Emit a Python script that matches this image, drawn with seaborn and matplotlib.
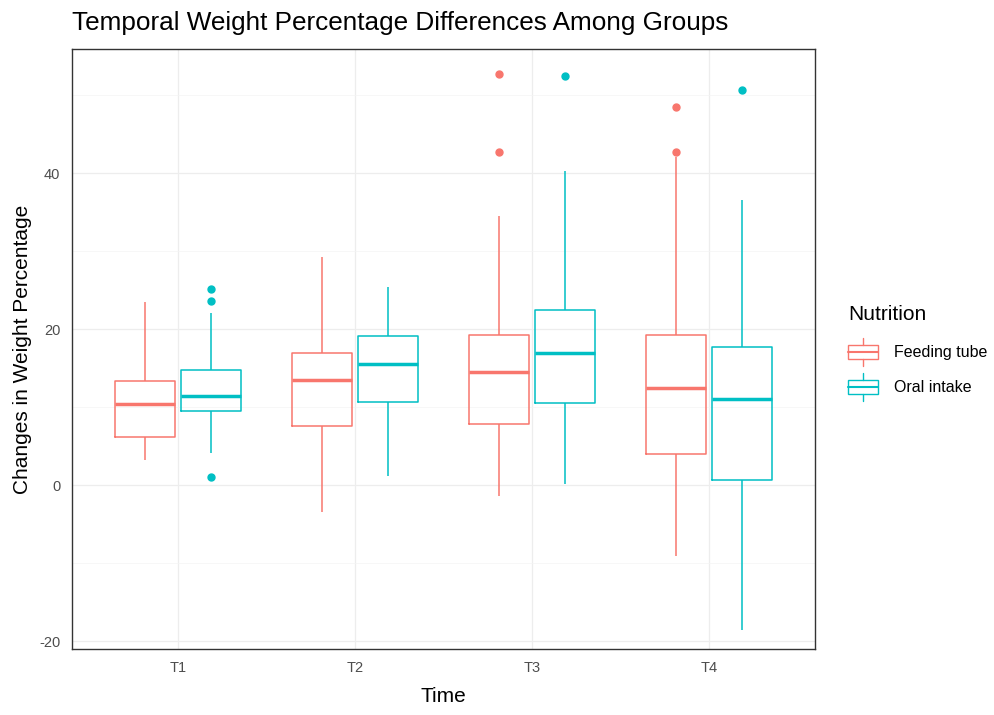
import matplotlib.pyplot as plt
import seaborn as sns
import pandas as pd
from matplotlib.legend_handler import HandlerBase
from matplotlib.lines import Line2D
from matplotlib.patches import Rectangle, Patch

# categories
times = ['T1', 'T2', 'T3', 'T4']
groups = ['Feeding tube', 'Oral intake']
colors = ['#F8766D', '#00BFC4']

t1_feeding = [3.2, 4.5, 5.6, 6.2, 7.8, 9.1, 10.4, 11.5, 12.6, 13.3, 15.8, 19.2, 23.5]
t1_oral = [1.1, 4.1, 8.2, 9.5, 10.3, 10.9, 11.45, 12.4, 13.6, 14.7, 22.0, 23.6, 25.1]
t2_feeding = [-3.5, 2.4, 5.9, 7.6, 9.8, 12.1, 13.5, 14.6, 15.8, 16.9, 21.4, 25.6, 29.3]
t2_oral = [1.2, 6.3, 9.1, 10.7, 12.8, 14.2, 15.5, 16.7, 18.0, 19.1, 21.3, 23.6, 25.4]
t3_feeding = [-1.4, 3.1, 5.8, 7.9, 10.2, 12.6, 14.5, 16.0, 17.8, 19.3, 34.5, 42.7, 52.7]
t3_oral = [0.1, 5.2, 8.4, 10.5, 13.1, 15.2, 16.9, 18.6, 20.7, 22.5, 29.8, 40.3, 52.5]
t4_feeding = [-9.1, -2.3, 1.6, 4.0, 7.2, 10.1, 12.45, 14.8, 17.1, 19.3, 42.0, 42.7, 48.5]
t4_oral = [-18.6, -8.4, -3.1, 0.6, 4.8, 8.3, 11.1, 13.2, 15.6, 17.7, 26.4, 36.5, 50.7]

series = {
    ('T1', 'Feeding tube'): t1_feeding, ('T1', 'Oral intake'): t1_oral,
    ('T2', 'Feeding tube'): t2_feeding, ('T2', 'Oral intake'): t2_oral,
    ('T3', 'Feeding tube'): t3_feeding, ('T3', 'Oral intake'): t3_oral,
    ('T4', 'Feeding tube'): t4_feeding, ('T4', 'Oral intake'): t4_oral,
}
rows = []
for (t, g), vals in series.items():
    for v in vals:
        rows.append((t, g, v))
df = pd.DataFrame(rows, columns=['Time', 'Nutrition', 'Change'])

sns.set_style('white')
plt.rcParams['font.family'] = ['Liberation Sans', 'DejaVu Sans']
plt.rcParams['axes.unicode_minus'] = False
plt.rcParams['text.color'] = 'black'

fig = plt.figure(figsize=(9.94, 7.15), dpi=100)
ax = fig.add_axes([0.0724, 0.0923, 0.7476, 0.8392])

sns.boxplot(data=df, x='Time', y='Change', hue='Nutrition', order=times,
            hue_order=groups, palette=colors, fill=False, width=0.75, gap=0.1,
            linewidth=1.1, whis=1.5, showcaps=False,
            medianprops=dict(linewidth=2.5),
            flierprops=dict(marker='o', markersize=5), legend=False, ax=ax)

# filled outlier dots in the group colour
for cont in ax.containers:
    c = cont.whiskers[0].get_color()
    for fl in cont.fliers:
        fl.set_markerfacecolor(c)
        fl.set_markeredgecolor(c)

ax.set_xlim(-0.6, 3.6)
ax.set_ylim(-21.0, 55.9)
ax.set_yticks([-20, 0, 20, 40])
ax.set_yticks([-10, 10, 30, 50], minor=True)
ax.grid(which='major', color='#EDEDED', linewidth=0.9)
ax.grid(which='minor', axis='y', color='#F4F4F4', linewidth=0.5)
ax.set_axisbelow(True)
for s in ax.spines.values():
    s.set_color('#333333')
    s.set_linewidth(1.0)
ax.tick_params(which='major', direction='out', length=3.5, width=0.8,
               color='#333333', labelcolor='#4D4D4D', labelsize=10.5, pad=5)
ax.tick_params(which='minor', length=0)

ax.set_xlabel('Time', fontsize=15, color='black', labelpad=9)
ax.set_ylabel('Changes in Weight Percentage', fontsize=15, color='black')
ax.yaxis.set_label_coords(-0.054, 0.5)
fig.text(0.0724, 0.958, 'Temporal Weight Percentage Differences Among Groups',
         fontsize=18.8, color='black', ha='left', va='baseline')


class BoxKey(HandlerBase):
    def create_artists(self, legend, orig_handle, xdescent, ydescent,
                       width, height, fontsize, trans):
        c = orig_handle.get_edgecolor()
        x0, y0 = -xdescent, -ydescent
        xm = x0 + width / 2
        box = Rectangle((x0, y0 + 0.25 * height), width, 0.5 * height,
                        facecolor='white', edgecolor=c, lw=1.0, transform=trans)
        med = Line2D([x0, x0 + width], [y0 + 0.5 * height] * 2, color=c,
                     lw=1.5, transform=trans)
        wlo = Line2D([xm, xm], [y0, y0 + 0.25 * height],
                     color=c, lw=1.0, transform=trans)
        whi = Line2D([xm, xm], [y0 + 0.75 * height, y0 + height],
                     color=c, lw=1.0, transform=trans)
        return [box, med, wlo, whi]


handles = [Patch(facecolor='white', edgecolor=c) for c in colors]
leg = fig.legend(handles, groups, title='Nutrition', loc='upper left',
                 bbox_to_anchor=(0.853, 0.574), frameon=False, borderpad=0,
                 borderaxespad=0, fontsize=11.5, title_fontsize=15,
                 handlelength=1.9, handleheight=2.35, handletextpad=1.0,
                 labelspacing=0.4, handler_map={Patch: BoxKey()})
leg._legend_box.align = 'left'
leg._legend_box.sep = 10.5

fig.savefig('out.png', dpi=100)
